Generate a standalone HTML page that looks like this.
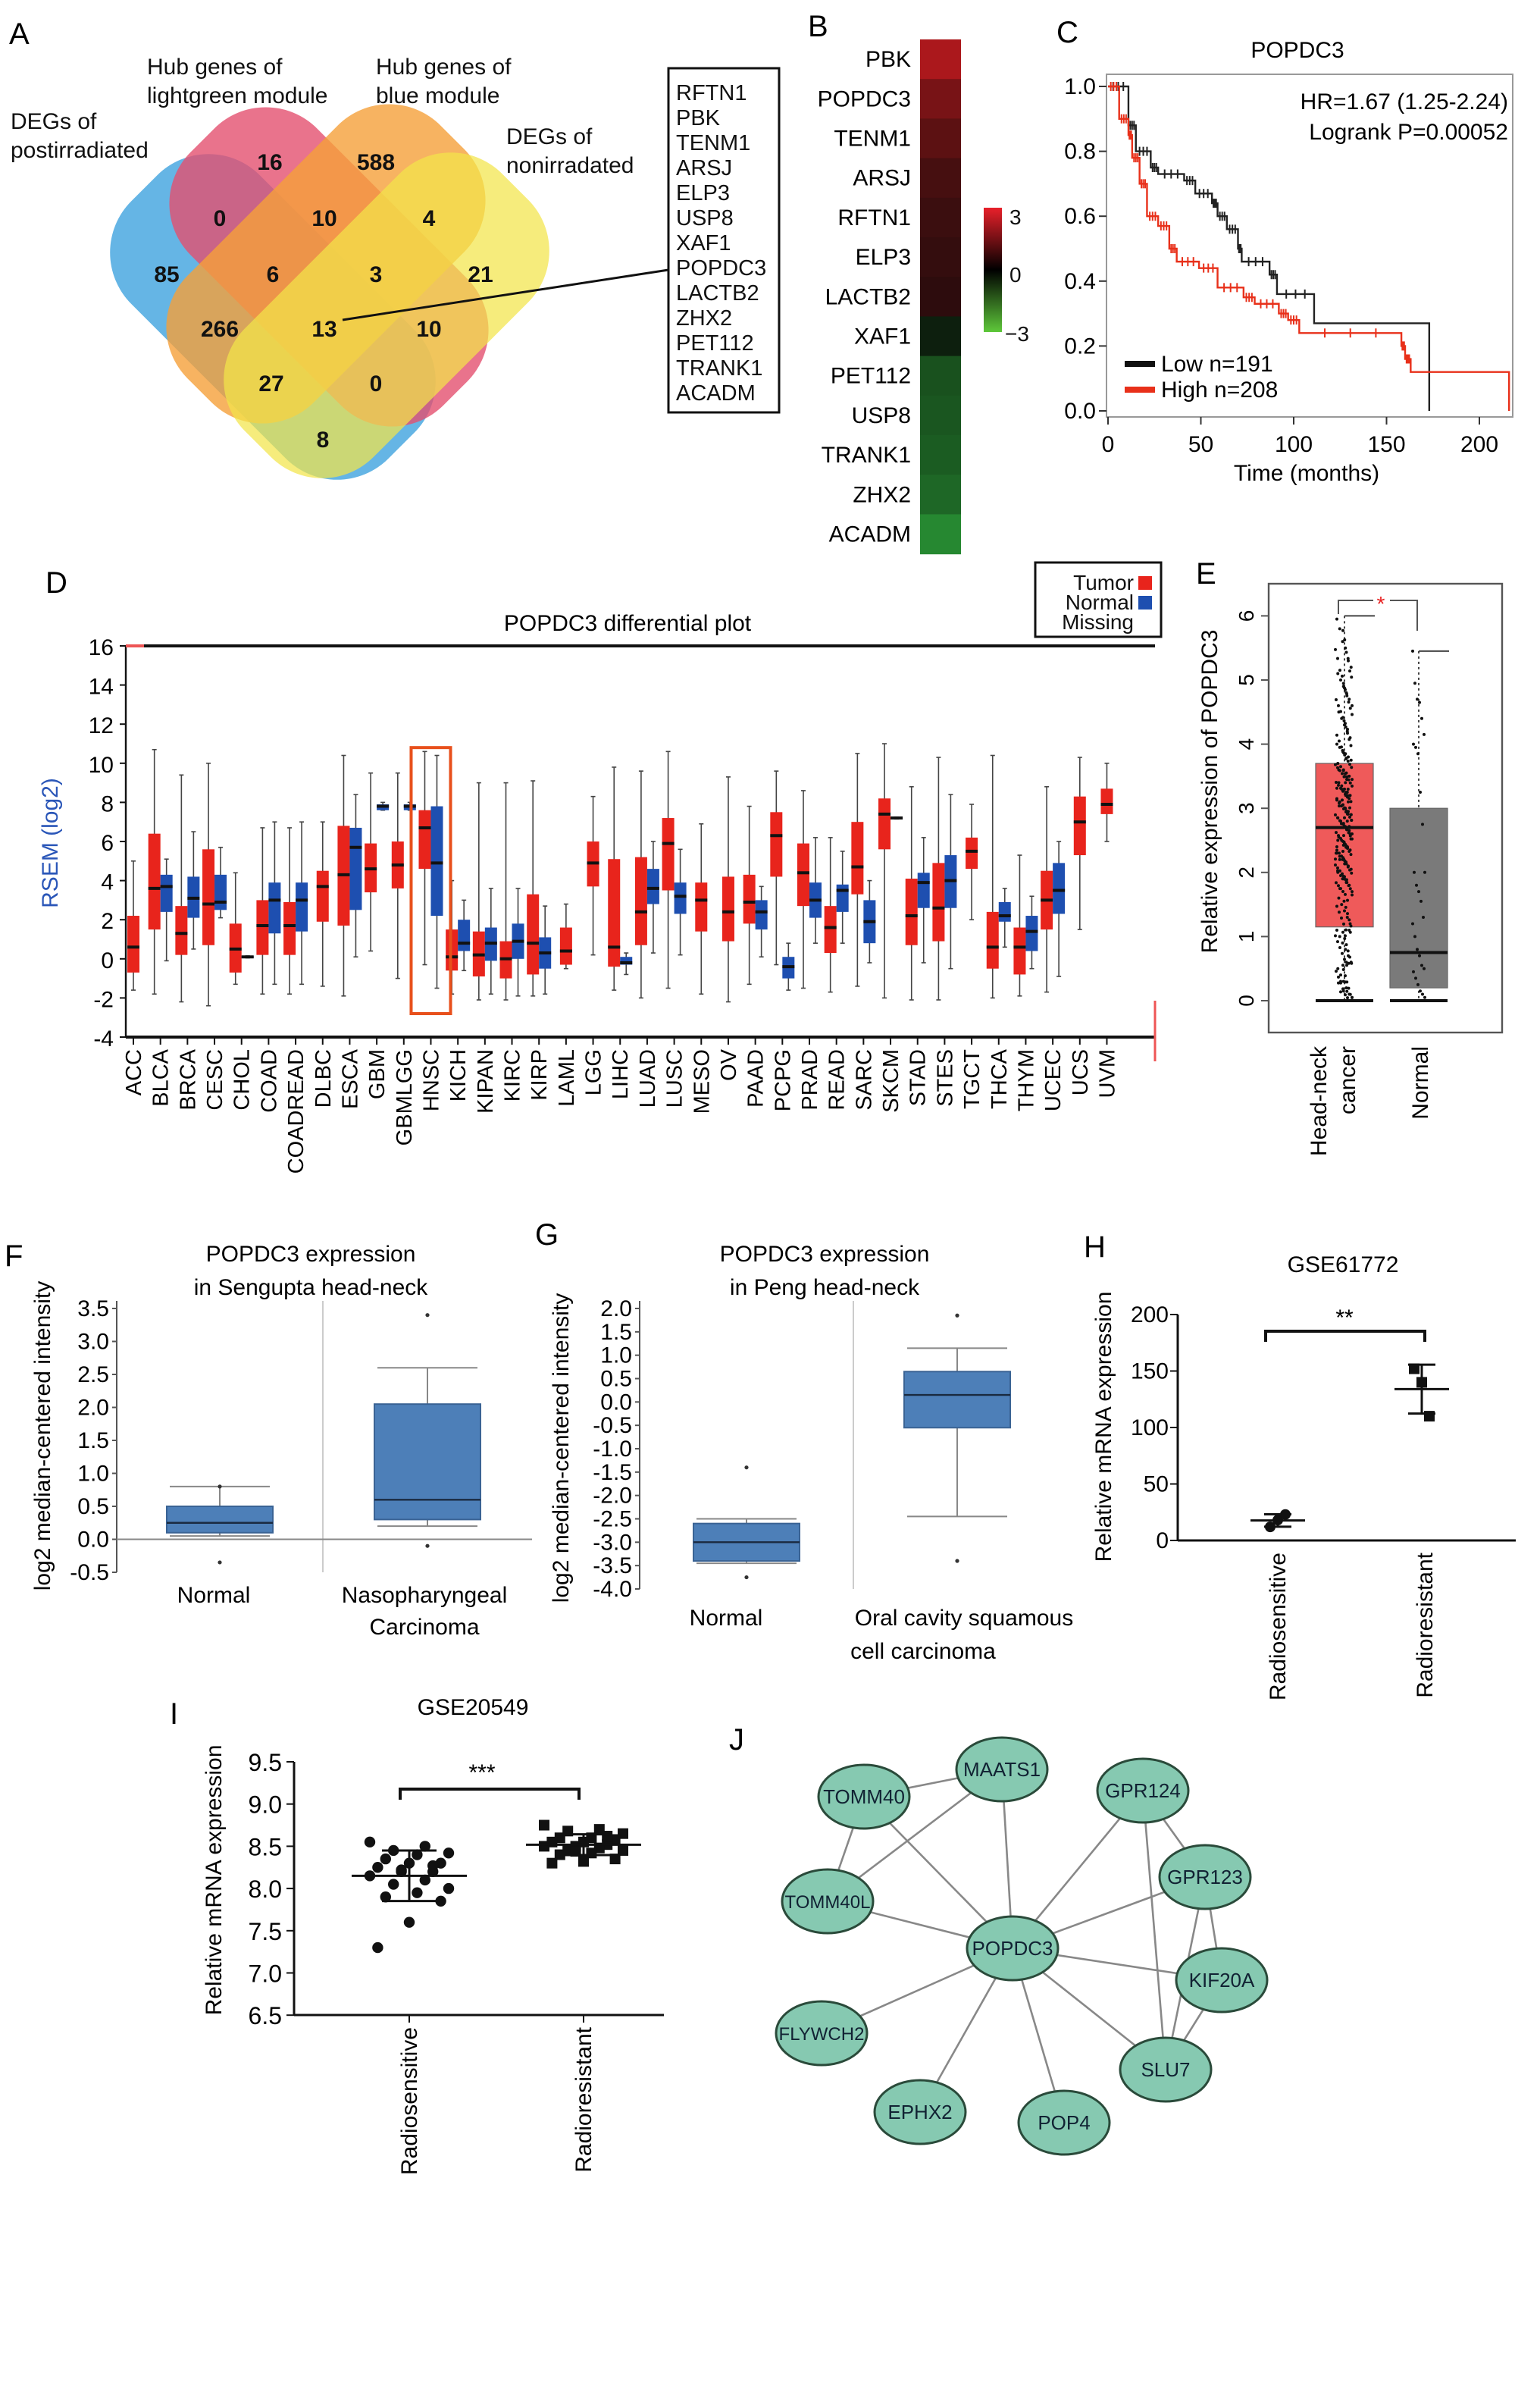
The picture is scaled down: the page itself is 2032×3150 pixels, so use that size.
<!DOCTYPE html>
<html><head><meta charset="utf-8">
<style>
html,body{margin:0;padding:0;background:#fff;}
svg{display:block;font-family:"Liberation Sans",sans-serif;}
</style></head>
<body>
<svg id="fig" width="2032" height="3150" viewBox="0 0 1016 1575" xmlns="http://www.w3.org/2000/svg">
<rect x="0" y="0" width="1016" height="1575" fill="#fff"/>
<!-- panel letters -->
<g font-size="20" fill="#000">
<text x="6" y="29">A</text>
<text x="533" y="24">B</text>
<text x="697" y="28">C</text>
<text x="30" y="391">D</text>
<text x="789" y="385">E</text>
<text x="3" y="835">F</text>
<text x="353" y="821">G</text>
<text x="715" y="829">H</text>
<text x="112" y="1137">I</text>
<text x="481" y="1154">J</text>
</g>

<!-- Panel A venn -->
<g>
<rect x="60" y="149" width="240" height="120" rx="48" fill="#4aa8e0" opacity="0.85" transform="rotate(45 180 209)"/>
<rect x="99" y="117" width="236" height="118" rx="48" fill="#e4506f" opacity="0.8" transform="rotate(45 217 176)"/>
<rect x="97" y="115" width="236" height="118" rx="48" fill="#f5a03a" opacity="0.8" transform="rotate(-45 215 174)"/>
<rect x="135" y="148" width="240" height="120" rx="48" fill="#f2e44a" opacity="0.72" transform="rotate(-45 255 208)"/>
<g font-size="15" font-weight="bold" text-anchor="middle" fill="#111">
<text x="178" y="112">16</text><text x="248" y="112">588</text>
<text x="145" y="149">0</text><text x="214" y="149">10</text><text x="283" y="149">4</text>
<text x="110" y="186">85</text><text x="180" y="186">6</text><text x="248" y="186">3</text><text x="317" y="186">21</text>
<text x="145" y="222">266</text><text x="214" y="222">13</text><text x="283" y="222">10</text>
<text x="179" y="258">27</text><text x="248" y="258">0</text>
<text x="213" y="295">8</text>
</g>
<g font-size="15" fill="#111">
<text x="7" y="85">DEGs of</text><text x="7" y="104">postirradiated</text>
<text x="97" y="49">Hub genes of</text><text x="97" y="68">lightgreen module</text>
<text x="248" y="49">Hub genes of</text><text x="248" y="68">blue module</text>
<text x="334" y="95">DEGs of</text><text x="334" y="114">nonirradated</text>
</g>
<line x1="226" y1="211" x2="441" y2="178" stroke="#111" stroke-width="1.5"/>
<rect x="441" y="45" width="73" height="227" fill="none" stroke="#111" stroke-width="1.5"/>
<g font-size="14.5" fill="#111">
<text x="446" y="66">RFTN1</text><text x="446" y="82.5">PBK</text><text x="446" y="99">TENM1</text><text x="446" y="115.5">ARSJ</text><text x="446" y="132">ELP3</text><text x="446" y="148.5">USP8</text><text x="446" y="165">XAF1</text><text x="446" y="181.5">POPDC3</text><text x="446" y="198">LACTB2</text><text x="446" y="214.5">ZHX2</text><text x="446" y="231">PET112</text><text x="446" y="247.5">TRANK1</text><text x="446" y="264">ACADM</text>
</g>
</g>

<!-- Panel B heatmap -->
<g id="heat"></g>
<defs><linearGradient id="cb" x1="0" y1="0" x2="0" y2="1"><stop offset="0" stop-color="#e8202a"/><stop offset="0.5" stop-color="#000"/><stop offset="1" stop-color="#5ec83a"/></linearGradient></defs>
<rect x="649" y="137" width="12" height="82" fill="url(#cb)"/>
<g font-size="14" fill="#111">
<text x="666" y="148">3</text><text x="666" y="186">0</text><text x="663" y="225">−3</text>
</g>

<!-- Panel C KM -->
<g id="km">
<text x="856" y="38" font-size="15" text-anchor="middle">POPDC3</text>
<rect x="730" y="49" width="268" height="226" fill="none" stroke="#999" stroke-width="1"/>
<text x="995" y="72" font-size="15" text-anchor="end">HR=1.67 (1.25-2.24)</text>
<text x="995" y="92" font-size="15" text-anchor="end">Logrank P=0.00052</text>
<line x1="742" y1="240" x2="762" y2="240" stroke="#111" stroke-width="4"/>
<text x="766" y="245" font-size="15">Low n=191</text>
<line x1="742" y1="257" x2="762" y2="257" stroke="#e8301a" stroke-width="4"/>
<text x="766" y="262" font-size="15">High n=208</text>
<text x="862" y="317" font-size="15" text-anchor="middle">Time (months)</text>
</g>

<!-- Panel D -->
<g id="pd">
<text x="414" y="416" font-size="15" text-anchor="middle">POPDC3 differential plot</text>
<rect x="683" y="371" width="83" height="49" fill="#fff" stroke="#111" stroke-width="1.5"/>
<g font-size="14" text-anchor="end" fill="#111">
<text x="748" y="389">Tumor</text><text x="748" y="402">Normal</text><text x="748" y="415">Missing</text>
</g>
<rect x="751" y="380" width="9" height="9" fill="#e8241c"/>
<rect x="751" y="393" width="9" height="9" fill="#1e4fb0"/>
<text x="38" y="556" font-size="15" fill="#2a56b8" text-anchor="middle" transform="rotate(-90 38 556)">RSEM (log2)</text>
</g>

<!-- Panel E -->
<g id="pe">
<rect x="837" y="385" width="154" height="296" fill="none" stroke="#555" stroke-width="1.2"/>
<text x="803" y="522" font-size="15" text-anchor="middle" transform="rotate(-90 803 522)">Relative expression of POPDC3</text>
<text x="875" y="690" font-size="15" text-anchor="end" transform="rotate(-90 875 690)">Head-neck</text>
<text x="894" y="690" font-size="15" text-anchor="end" transform="rotate(-90 894 690)">cancer</text>
<text x="942" y="690" font-size="15" text-anchor="end" transform="rotate(-90 942 690)">Normal</text>
<path d="M883 405 V396 H906 M917 396 H935 V416" fill="none" stroke="#555" stroke-width="1"/>
<text x="911" y="403" font-size="14" fill="#e82020" text-anchor="middle">*</text>
</g>

<!-- Panel F -->
<g id="pf">
<text x="205" y="832" font-size="15" text-anchor="middle">POPDC3 expression</text>
<text x="205" y="854" font-size="15" text-anchor="middle">in Sengupta head-neck</text>
<text x="33" y="947" font-size="15" text-anchor="middle" transform="rotate(-90 33 947)">log2 median-centered intensity</text>
<text x="141" y="1057" font-size="15" text-anchor="middle">Normal</text>
<text x="280" y="1057" font-size="15" text-anchor="middle">Nasopharyngeal</text>
<text x="280" y="1078" font-size="15" text-anchor="middle">Carcinoma</text>
</g>

<!-- Panel G -->
<g id="pg">
<text x="544" y="832" font-size="15" text-anchor="middle">POPDC3 expression</text>
<text x="544" y="854" font-size="15" text-anchor="middle">in Peng head-neck</text>
<text x="375" y="955" font-size="15" text-anchor="middle" transform="rotate(-90 375 955)">log2 median-centered intensity</text>
<text x="479" y="1072" font-size="15" text-anchor="middle">Normal</text>
<text x="636" y="1072" font-size="15" text-anchor="middle">Oral cavity squamous</text>
<text x="609" y="1094" font-size="15" text-anchor="middle">cell carcinoma</text>
</g>

<!-- Panel H -->
<g id="ph">
<text x="886" y="839" font-size="15" text-anchor="middle">GSE61772</text>
<text x="733" y="941" font-size="15" text-anchor="middle" transform="rotate(-90 733 941)">Relative mRNA expression</text>
<text x="848" y="1024" font-size="15" text-anchor="end" transform="rotate(-90 848 1024)">Radiosensitive</text>
<text x="945" y="1024" font-size="15" text-anchor="end" transform="rotate(-90 945 1024)">Radioresistant</text>
<path d="M835 885 V878 H940 V885" fill="none" stroke="#111" stroke-width="2"/>
<text x="887" y="874" font-size="15" text-anchor="middle">**</text>
</g>

<!-- Panel I -->
<g id="pi">
<text x="312" y="1131" font-size="15" text-anchor="middle">GSE20549</text>
<text x="146" y="1240" font-size="15" text-anchor="middle" transform="rotate(-90 146 1240)">Relative mRNA expression</text>
<text x="275" y="1337" font-size="15" text-anchor="end" transform="rotate(-90 275 1337)">Radiosensitive</text>
<text x="390" y="1337" font-size="15" text-anchor="end" transform="rotate(-90 390 1337)">Radioresistant</text>
<path d="M264 1187 V1180 H382 V1187" fill="none" stroke="#111" stroke-width="2"/>
<text x="318" y="1174" font-size="15" text-anchor="middle">***</text>
</g>

<!-- Panel J -->
<g id="pj"></g>
</svg>

<script>
const NS='http://www.w3.org/2000/svg';
function mk(tag,attrs,parent){const e=document.createElementNS(NS,tag);for(const k in attrs)e.setAttribute(k,attrs[k]);parent.appendChild(e);return e;}

/* ---------- Panel B data ---------- */
const heatGenes=['PBK','POPDC3','TENM1','ARSJ','RFTN1','ELP3','LACTB2','XAF1','PET112','USP8','TRANK1','ZHX2','ACADM'];
const heatValues=[2.1,1.4,1.0,0.7,0.55,0.45,0.35,-0.2,-1.1,-1.2,-1.3,-1.5,-2.1];
/* ---------- Panel C data ---------- */
const kmLowT=[0,11,15,23,27,41,47,56,59,64,70,72,87,91,111,173];
const kmLowS=[1,0.88,0.8,0.75,0.73,0.71,0.67,0.64,0.6,0.56,0.5,0.46,0.42,0.36,0.27,0];
const kmHighT=[0,6,11,13,17,21,27,33,37,49,59,73,79,92,97,103,158,160,163,216];
const kmHighS=[1,0.9,0.85,0.78,0.7,0.6,0.57,0.5,0.46,0.44,0.38,0.35,0.33,0.3,0.28,0.24,0.2,0.16,0.12,0];
const kmXTicks=[0,50,100,150,200];
const kmYTicks=[0,0.2,0.4,0.6,0.8,1.0];
/* ---------- Panel D data ---------- */
const dCats=['ACC','BLCA','BRCA','CESC','CHOL','COAD','COADREAD','DLBC','ESCA','GBM','GBMLGG','HNSC','KICH','KIPAN','KIRC','KIRP','LAML','LGG','LIHC','LUAD','LUSC','MESO','OV','PAAD','PCPG','PRAD','READ','SARC','SKCM','STAD','STES','TGCT','THCA','THYM','UCEC','UCS','UVM'];
const dTumor=[[-0.7,0.6,2.2,-1.6,5],[1.5,3.6,6.4,-1.8,10.7],[0.2,1.3,2.7,-2.2,9.4],[0.7,2.8,5.6,-2.4,10],[-0.7,0.5,1.8,-1.3,4.4],[0.2,1.7,3,-1.8,6.7],[0.2,1.7,2.9,-1.8,6.7],[1.9,3.7,4.5,-1.4,7],[1.7,4.3,6.8,-1.9,10.4],[3.4,4.6,5.9,0.4,9.5],[3.6,4.8,6,-1,9.5],[4.6,6.7,7.6,-0.3,10.6],[-0.6,0.1,1.5,-1.8,4],[-0.9,0.2,1.4,-2.1,9],[-1,0,0.9,-2.1,9],[-0.8,0.8,3.3,-1.9,9.1],[-0.3,0.4,1.6,-0.5,2.8],[3.7,4.9,6,0.2,8.3],[-0.4,0.6,5.1,-1.6,9.8],[0.7,2.4,5.2,-2,9.6],[3.5,5.9,7.2,-1.5,10.6],[1.4,3,3.9,-1.8,6.9],[0.9,2.4,4.2,-2.2,9.3],[1.8,2.9,4.3,-1.3,7.8],[4.2,6.3,7.5,-0.3,9.6],[2.7,4.4,5.9,-1.5,8.6],[0.3,1.6,2.7,-1.7,6.2],[3.3,4.7,7,-1.4,10.5],[5.6,7.4,8.2,-2,11],[0.7,2.2,4.1,-2.1,8.8],[0.9,2.6,4.9,-2.1,10.3],[4.6,5.5,6.2,2,7.9],[-0.5,0.6,2.4,-2,10.4],[-0.8,0.6,1.6,-1.9,5.3],[1.5,3,4.5,-1.7,8.8],[5.3,7,8.3,1.5,10.3],[7.4,7.9,8.7,6,10]];
const dNormal=[null,[2.4,3.7,4.3,-0.1,5.1],[2.1,3.1,4.2,0.5,6.5],[2.5,2.9,4.3,2.1,5.7],[0.05,0.1,0.15,0.05,0.15],[1.3,3,3.9,-1.3,7],[1.4,3,3.9,-1.3,7],null,[2.5,5.7,6.7,0.1,8.4],[7.6,7.8,7.9,7.6,8],[7.6,7.8,7.9,7.6,8],[2.2,4.9,7.8,-1.5,10.4],[0.4,0.8,2,-0.6,3],[-0.1,0.8,1.6,-1.8,3.6],[0,0.9,1.8,-1.9,3.6],[-0.5,0.3,1.1,-1.8,2.7],null,null,[-0.3,-0.2,0.1,-0.8,0.3],[2.8,3.6,4.6,0.3,6],[2.3,3.2,3.9,0.2,5.6],null,null,[1.5,2.4,3,0.1,3.7],[-1,-0.4,0.1,-1.6,0.8],[2.1,3,3.9,0.8,6.2],[2.4,3.5,3.8,0.8,5.5],[0.8,1.9,3,-0.2,4],[7.15,7.2,7.25,7.15,7.25],[2.6,3.9,4.4,-0.2,6.2],[2.6,4,5.3,-0.5,8.4],null,[1.9,2.2,2.9,0.6,3.6],[0.4,1.4,2.2,-0.5,3.2],[2.3,3.5,4.9,-0.9,6],null,null];
const dYTicks=[-4,-2,0,2,4,6,8,10,12,14,16];
/* ---------- Panel E data ---------- */
const eTumorBox=[1.15,2.7,3.7,0,6];
const eNormalBox=[0.2,0.75,3.0,0,5.45];
const eTumorPts=[5.95,5.8,5.6,5.5,5.3,5.2,5.1,5.0,4.9,4.8,4.7,4.6,4.5,4.4,4.3,4.2,4.1,4.0,3.95,3.9,3.85,3.8,3.75,3.7,3.65,3.6,3.55,3.5,3.45,3.4,3.35,3.3,3.25,3.2,3.15,3.1,3.05,3.0,2.95,2.9,2.85,2.8,2.75,2.7,2.65,2.6,2.55,2.5,2.45,2.4,2.35,2.3,2.25,2.2,2.15,2.1,2.05,2.0,1.95,1.9,1.85,1.8,1.7,1.6,1.5,1.4,1.3,1.2,1.1,1.0,0.9,0.8,0.7,0.6,0.5,0.4,0.3,0.2,0.1,0.05,3.6,3.3,3.0,2.8,2.6,2.4,2.2,1.9,3.4,3.1,2.9,2.5,0.3,0.15,0.6,1.1];
const eNormalPts=[5.45,4.95,4.7,4.65,4.4,4.15,4.0,3.95,3.85,3.25,2.75,2.0,2.0,1.8,1.7,1.55,1.3,1.2,1.0,0.8,0.7,0.55,0.5,0.45,0.35,0.25,0.15,0.1,0.05];
/* ---------- Panel F/G data ---------- */
const fCats=['Normal','Nasopharyngeal Carcinoma'];
const fBoxes=[[0.1,0.25,0.5,0.05,0.8],[0.3,0.6,2.05,0.2,2.6]];
const fOutliers=[[-0.35,0.8],[3.4,-0.1]];
const fYTicks=[-0.5,0,0.5,1,1.5,2,2.5,3,3.5];
const gCats=['Normal','Oral cavity squamous cell carcinoma'];
const gBoxes=[[-3.4,-3.0,-2.6,-3.45,-2.5],[-0.55,0.15,0.65,-2.45,1.15]];
const gOutliers=[[-1.4,-3.75],[1.85,-3.4]];
const gYTicks=[-4,-3.5,-3,-2.5,-2,-1.5,-1,-0.5,0,0.5,1,1.5,2];
/* ---------- Panel H data ---------- */
const hSens=[12,18,23];
const hRes=[152,140,110];
const hYTicks=[0,50,100,150,200];
/* ---------- Panel I data ---------- */
const iSens=[8.55,8.5,8.45,8.42,8.4,8.35,8.3,8.3,8.25,8.2,8.2,8.15,8.1,8.05,8.0,7.95,7.9,7.85,7.6,7.3,8.27,8.22];
const iRes=[8.75,8.7,8.68,8.65,8.6,8.6,8.58,8.55,8.55,8.52,8.5,8.5,8.48,8.45,8.45,8.42,8.4,8.35,8.32,8.3,8.62,8.44];
const iYTicks=[6.5,7.0,7.5,8.0,8.5,9.0,9.5];
/* ---------- Panel J data ---------- */
const jNodes=['TOMM40','MAATS1','GPR124','GPR123','TOMM40L','POPDC3','KIF20A','FLYWCH2','SLU7','EPHX2','POP4'];
const jEdges=[['TOMM40','MAATS1'],['TOMM40','TOMM40L'],['MAATS1','TOMM40L'],['TOMM40','POPDC3'],['MAATS1','POPDC3'],['TOMM40L','POPDC3'],['GPR124','POPDC3'],['GPR123','POPDC3'],['KIF20A','POPDC3'],['SLU7','POPDC3'],['POP4','POPDC3'],['EPHX2','POPDC3'],['FLYWCH2','POPDC3'],['GPR124','GPR123'],['GPR124','SLU7'],['GPR123','KIF20A'],['GPR123','SLU7'],['KIF20A','SLU7']];
const jLayout={TOMM40:[570,1185],MAATS1:[661,1167],GPR124:[754,1181],GPR123:[795,1238],TOMM40L:[546,1254],POPDC3:[668,1285],KIF20A:[806,1306],FLYWCH2:[542,1341],SLU7:[769,1365],EPHX2:[607,1393],POP4:[702,1400]};

/* ===== Panel B ===== */
(function(){
 const g=document.getElementById('heat');
 const top=26,h=26.1;
 function col(v){const t=Math.min(1,Math.abs(v)/3);
   if(v>=0)return `rgb(${Math.round(20+215*t)},${Math.round(10+20*t)},${Math.round(10+25*t)})`;
   return `rgb(${Math.round(10+40*t)},${Math.round(20+165*t)},${Math.round(10+55*t)})`;}
 heatGenes.forEach((gname,i)=>{
  const r=mk('rect',{x:607,y:top+i*h,width:27,height:h+0.3,fill:col(heatValues[i])},g);
  
  
  const t=mk('text',{x:601,y:top+i*h+h/2+5,'font-size':15,'text-anchor':'end'},g);t.textContent=gname;
  
  
 });
})();

/* ===== Panel C ===== */
(function(){
 const g=document.getElementById('km');
 const X=t=>731+t*1.225, Y=s=>271-s*214;
 kmXTicks.forEach(v=>{const l=mk('line',{x1:X(v),x2:X(v),y1:275,y2:280,stroke:'#333'},g);
  
  
  const t=mk('text',{x:X(v),y:298,'font-size':15,'text-anchor':'middle'},g);t.textContent=v;
  
  });
 kmYTicks.forEach(v=>{const l=mk('line',{x1:725,x2:730,y1:Y(v),y2:Y(v),stroke:'#333'},g);
  
  
  const t=mk('text',{x:723,y:Y(v)+5,'font-size':15,'text-anchor':'end'},g);t.textContent=v.toFixed(1);
  
  });
 function step(T,S,color,name){
  let d=`M${X(T[0])} ${Y(S[0])}`;
  for(let i=1;i<T.length;i++){d+=` H${X(T[i])} V${Y(S[i])}`;}
  const p=mk('path',{d,fill:'none',stroke:color,'stroke-width':1.2},g);
  
  
  let cd='';
  for(let i=0;i<T.length-2;i++){const a=T[i],b=T[i+1];
    for(let k=1;k<4;k++){const t=a+(b-a)*k/4;cd+=`M${X(t)} ${Y(S[i])-3}v6`;}}
  const c=mk('path',{d:cd,stroke:color,'stroke-width':1},g);
  
  
 }
 step(kmLowT,kmLowS,'#222','km-curve-low');
 step(kmHighT,kmHighS,'#e8301a','km-curve-high');
})();

/* ===== Panel D ===== */
(function(){
 const g=document.getElementById('pd');
 const x0=88,dx=17.84, Y=v=>426+(16-v)*12.9;
 mk('line',{x1:83,x2:83,y1:426,y2:684,stroke:'#111','stroke-width':1.2},g);
 const top=mk('line',{x1:83,x2:762,y1:426,y2:426,stroke:'#111','stroke-width':2},g);
 
 
 const bot=mk('line',{x1:83,x2:762,y1:684,y2:684,stroke:'#111','stroke-width':2},g);
 
 
 mk('line',{x1:83,x2:95,y1:426,y2:426,stroke:'#e55','stroke-width':2},g);
 mk('line',{x1:762,x2:762,y1:660,y2:700,stroke:'#e55','stroke-width':1.5},g);
 dYTicks.forEach(v=>{const t=mk('text',{x:75,y:Y(v)+6,'font-size':15,'text-anchor':'end'},g);t.textContent=v;
  
  
  mk('line',{x1:79,x2:83,y1:Y(v),y2:Y(v),stroke:'#111'},g);});
 function box(cx,b,fill,name){
  const w=8;
  const wl=mk('line',{x1:cx,x2:cx,y1:Y(b[4]),y2:Y(b[3]),stroke:'#444','stroke-width':0.8},g);
  
  
  mk('line',{x1:cx-1.5,x2:cx+1.5,y1:Y(b[4]),y2:Y(b[4]),stroke:'#444','stroke-width':0.8},g);
  mk('line',{x1:cx-1.5,x2:cx+1.5,y1:Y(b[3]),y2:Y(b[3]),stroke:'#444','stroke-width':0.8},g);
  const r=mk('rect',{x:cx-w/2,y:Y(b[2]),width:w,height:Math.max(1.5,Y(b[0])-Y(b[2])),fill},g);
  
  
  mk('line',{x1:cx-w/2,x2:cx+w/2,y1:Y(b[1]),y2:Y(b[1]),stroke:'#111','stroke-width':2},g);
 }
 dCats.forEach((c,i)=>{
  const cx=x0+i*dx;
  const n=dNormal[i];
  if(n){box(cx-4,dTumor[i],'#e8241c','box-tumor-'+c.toLowerCase());box(cx+4,n,'#1e4fb0','box-normal-'+c.toLowerCase());}
  else box(cx,dTumor[i],'#e8241c','box-tumor-'+c.toLowerCase());
  mk('line',{x1:cx,x2:cx,y1:684,y2:689,stroke:'#111'},g);
  const t=mk('text',{x:cx+5,y:692,'font-size':14.5,'text-anchor':'end',transform:`rotate(-90 ${cx+5} 692)`},g);t.textContent=c;
  
  
 });
 const hi=dCats.indexOf('HNSC');
 const hl=mk('rect',{x:x0+hi*dx-13,y:Y(10.8),width:26,height:Y(-2.8)-Y(10.8),fill:'none',stroke:'#e8501c','stroke-width':2},g);
 
 
})();

/* ===== Panel E ===== */
(function(){
 const g=document.getElementById('pe');
 const Y=v=>660-v*42.3;
 [0,1,2,3,4,5,6].forEach(v=>{const t=mk('text',{x:827,y:Y(v),'font-size':14,'text-anchor':'middle',transform:`rotate(-90 827 ${Y(v)})`},g);t.textContent=v;
  
  
  mk('line',{x1:832,x2:837,y1:Y(v),y2:Y(v),stroke:'#555'},g);});
 function box(cx,b,fill,name){
  mk('line',{x1:cx,x2:cx,y1:Y(b[4]),y2:Y(b[3]),stroke:'#444','stroke-dasharray':'1.5 2'},g);
  mk('line',{x1:cx,x2:cx+20,y1:Y(b[4]),y2:Y(b[4]),stroke:'#444'},g);
  const r=mk('rect',{x:cx-19,y:Y(b[2]),width:38,height:Y(b[0])-Y(b[2]),fill,stroke:'#666','stroke-width':0.6},g);
  
  
  mk('line',{x1:cx-19,x2:cx+19,y1:Y(b[1]),y2:Y(b[1]),stroke:'#111','stroke-width':2},g);
  mk('line',{x1:cx-19,x2:cx+19,y1:Y(b[3]),y2:Y(b[3]),stroke:'#111','stroke-width':2},g);
 }
 box(887,eTumorBox,'#ef5a5a','hnsc-box-tumor');
 box(936,eNormalBox,'#7a7a7a','hnsc-box-normal');
 function pts(arr,cx,spread,name){arr.forEach((v,i)=>{
   const off=((i*37)%17-8)/8*spread;
   const c=mk('circle',{cx:cx+off,cy:Y(v),r:1,fill:'#111'},g);
   
   });}
 pts(eTumorPts,887,5,'hnsc-point-tumor');
 pts(eTumorPts.map(v=>v*0.92),885,4,'hnsc-point-tumor');
 pts(eTumorPts.map(v=>v*0.97),889,3,'hnsc-point-tumor');
 pts(eNormalPts,936,4,'hnsc-point-normal');
})();

/* ===== Panels F & G ===== */
function oncoBox(id,x1,x2,ytop,ybot,vTop,vBot,ticks,boxes,outs,div,prefix){
 const g=document.getElementById(id);
 const Y=v=>ytop+(vTop-v)*(ybot-ytop)/(vTop-vBot);
 mk('line',{x1:x1,x2:x1,y1:ytop-5,y2:ybot,stroke:'#555'},g);
 const dv=mk('line',{x1:div,x2:div,y1:ytop-5,y2:ybot,stroke:'#ccc'},g);
 
 
 ticks.forEach(v=>{const t=mk('text',{x:x1-5,y:Y(v)+5,'font-size':15,'text-anchor':'end'},g);t.textContent=v.toFixed(1);
  
  
  mk('line',{x1:x1-3,x2:x1,y1:Y(v),y2:Y(v),stroke:'#555'},g);});
 if(prefix==='sengupta'){const z=mk('line',{x1:x1,x2:x2,y1:Y(0),y2:Y(0),stroke:'#888'},g);
  
  }
 const centers=[(x1+div)/2,(div+x2)/2];
 boxes.forEach((b,i)=>{const cx=centers[i];
  mk('line',{x1:cx,x2:cx,y1:Y(b[4]),y2:Y(b[3]),stroke:'#888'},g);
  mk('line',{x1:cx-33,x2:cx+33,y1:Y(b[4]),y2:Y(b[4]),stroke:'#888'},g);
  mk('line',{x1:cx-33,x2:cx+33,y1:Y(b[3]),y2:Y(b[3]),stroke:'#888'},g);
  const r=mk('rect',{x:cx-35,y:Y(b[2]),width:70,height:Y(b[0])-Y(b[2]),fill:'#4d7fb8',stroke:'#3a6394'},g);
  
  
  mk('line',{x1:cx-35,x2:cx+35,y1:Y(b[1]),y2:Y(b[1]),stroke:'#1a2a40','stroke-width':1.2},g);
  outs[i].forEach(v=>{const c=mk('circle',{cx:cx,cy:Y(v),r:1.3,fill:'#333'},g);
   
   });
 });
}
oncoBox('pf',77,351,863,1037,3.5,-0.5,fYTicks,fBoxes,fOutliers,213,'sengupta');
oncoBox('pg',422,700,863,1048,2.0,-4.0,gYTicks,gBoxes,gOutliers,563,'peng');

/* ===== Panel H ===== */
(function(){
 const g=document.getElementById('ph');
 const Y=v=>1016-v*0.745;
 mk('line',{x1:777,x2:777,y1:Y(200),y2:1016,stroke:'#111','stroke-width':1.5},g);
 mk('line',{x1:777,x2:1000,y1:1016,y2:1016,stroke:'#111','stroke-width':1.5},g);
 hYTicks.forEach(v=>{const t=mk('text',{x:771,y:Y(v)+5,'font-size':15,'text-anchor':'end'},g);t.textContent=v;
  
  
  mk('line',{x1:772,x2:777,y1:Y(v),y2:Y(v),stroke:'#111'},g);});
 function grp(arr,cx,shape,name){
  const m=arr.reduce((a,b)=>a+b,0)/arr.length;
  const sd=Math.sqrt(arr.reduce((a,b)=>a+(b-m)*(b-m),0)/(arr.length-1));
  mk('line',{x1:cx-18,x2:cx+18,y1:Y(m),y2:Y(m),stroke:'#111','stroke-width':1.5},g);
  mk('line',{x1:cx,x2:cx,y1:Y(m+sd),y2:Y(m-sd),stroke:'#111','stroke-width':1.5},g);
  mk('line',{x1:cx-9,x2:cx+9,y1:Y(m+sd),y2:Y(m+sd),stroke:'#111','stroke-width':1.5},g);
  mk('line',{x1:cx-9,x2:cx+9,y1:Y(m-sd),y2:Y(m-sd),stroke:'#111','stroke-width':1.5},g);
  arr.forEach((v,i)=>{const off=[-5,0,5][i%3];let e;
   if(shape==='c')e=mk('circle',{cx:cx+off,cy:Y(v),r:3.5,fill:'#111'},g);
   else e=mk('rect',{x:cx+off-3.5,y:Y(v)-3.5,width:7,height:7,fill:'#111'},g);
   
   });
 }
 grp(hSens,843,'c','gse61772-point-sensitive');
 grp(hRes,938,'s','gse61772-point-resistant');
})();

/* ===== Panel I ===== */
(function(){
 const g=document.getElementById('pi');
 const Y=v=>1162+(9.5-v)*55.7;
 mk('line',{x1:194,x2:194,y1:1162,y2:1329,stroke:'#111','stroke-width':1.5},g);
 mk('line',{x1:194,x2:438,y1:1329,y2:1329,stroke:'#111','stroke-width':1.5},g);
 iYTicks.forEach(v=>{const t=mk('text',{x:186,y:Y(v)+6,'font-size':16,'text-anchor':'end'},g);t.textContent=v.toFixed(1);
  
  
  mk('line',{x1:189,x2:194,y1:Y(v),y2:Y(v),stroke:'#111'},g);});
 [270,385].forEach(x=>mk('line',{x1:x,x2:x,y1:1329,y2:1334,stroke:'#111'},g));
 function grp(arr,cx,shape,name){
  const m=arr.reduce((a,b)=>a+b,0)/arr.length;
  const sd=Math.sqrt(arr.reduce((a,b)=>a+(b-m)*(b-m),0)/(arr.length-1));
  arr.forEach((v,i)=>{const off=((i*7)%11-5)*5.2;let e;
   if(shape==='c')e=mk('circle',{cx:cx+off,cy:Y(v),r:3.6,fill:'#111'},g);
   else e=mk('rect',{x:cx+off-3.5,y:Y(v)-3.5,width:7,height:7,fill:'#111'},g);
   
   });
  mk('line',{x1:cx-38,x2:cx+38,y1:Y(m),y2:Y(m),stroke:'#111','stroke-width':1.5},g);
  mk('line',{x1:cx,x2:cx,y1:Y(m+sd),y2:Y(m-sd),stroke:'#111','stroke-width':1.5},g);
  mk('line',{x1:cx-18,x2:cx+18,y1:Y(m+sd),y2:Y(m+sd),stroke:'#111','stroke-width':1.5},g);
  mk('line',{x1:cx-18,x2:cx+18,y1:Y(m-sd),y2:Y(m-sd),stroke:'#111','stroke-width':1.5},g);
 }
 grp(iSens,270,'c','gse20549-point-sensitive');
 grp(iRes,385,'s','gse20549-point-resistant');
})();

/* ===== Panel J ===== */
(function(){
 const g=document.getElementById('pj');
 jEdges.forEach(([a,b])=>{const p=jLayout[a],q=jLayout[b];
  const l=mk('line',{x1:p[0],y1:p[1],x2:q[0],y2:q[1],stroke:'#888','stroke-width':1.3},g);
  
  });
 jNodes.forEach(n=>{const p=jLayout[n];
  const e=mk('ellipse',{cx:p[0],cy:p[1],rx:30,ry:21,fill:'#86c9b1',stroke:'#2a4a3a','stroke-width':1.5},g);
  
  
  const t=mk('text',{x:p[0],y:p[1]+4.5,'font-size':n.length>6?12:13,'text-anchor':'middle',fill:'#123'},g);t.textContent=n;
  
  });
})();
</script>
</body></html>
